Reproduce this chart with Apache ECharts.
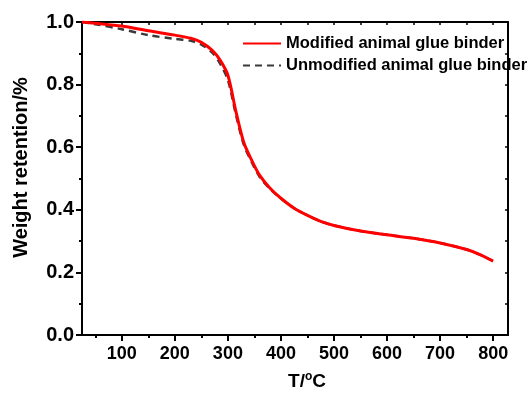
<!DOCTYPE html>
<html>
<head>
    <meta charset="utf-8">
    <title>TG curves (ECharts)</title>
    <script src="https://cdn.jsdelivr.net/npm/echarts@6/dist/echarts.min.js"></script>
    <style>
        html, body { margin: 0; padding: 0; background: #fff; }
        #main { width: 530px; height: 396px; }
    </style>
</head>
<body>
    <div id="main"></div>
    <script>
        // temperature (°C) and weight retention
        const temps = [25, 50, 100, 150, 200, 230, 250, 270, 285, 300, 315, 330, 345, 360, 380, 400, 425, 450, 475, 500, 550, 600, 650, 700, 750, 775, 800];
        const modified = [1.000, 0.996, 0.987, 0.972, 0.958, 0.948, 0.935, 0.910, 0.879, 0.830, 0.715, 0.615, 0.558, 0.510, 0.468, 0.437, 0.405, 0.382, 0.363, 0.350, 0.332, 0.320, 0.309, 0.294, 0.273, 0.257, 0.236];
        const unmodified = [1.000, 0.993, 0.977, 0.958, 0.946, 0.940, 0.928, 0.903, 0.868, 0.815, 0.705, 0.608, 0.552, 0.505, 0.466, 0.436, 0.405, 0.382, 0.363, 0.350, 0.332, 0.320, 0.309, 0.294, 0.273, 0.257, 0.236];

        const seriesNames = ['Modified animal glue binder', 'Unmodified animal glue binder'];
        const xMajor = [100, 200, 300, 400, 500, 600, 700, 800];
        const xMinor = [50, 150, 250, 350, 450, 550, 650, 750];
        const xAll = [50, 100, 150, 200, 250, 300, 350, 400, 450, 500, 550, 600, 650, 700, 750, 800];

        const font = "'Liberation Sans', Arial, sans-serif";
        const xMin = 25, xMax = 828;

        const chart = echarts.init(document.getElementById('main'));
        chart.setOption({
            animation: false,
            backgroundColor: '#fff',
            grid: { left: 82, right: 22, top: 22, bottom: 59 },
            legend: {
                data: seriesNames,
                orient: 'vertical',
                left: 237,
                top: 30,
                itemWidth: 38,
                itemHeight: 10,
                itemGap: 5,
                itemStyle: { opacity: 0 },
                textStyle: { fontFamily: font, fontWeight: 'bold', fontSize: 16.5, color: '#000' }
            },
            xAxis: [{
                type: 'value', min: xMin, max: xMax, position: 'bottom',
                axisLine: { lineStyle: { color: '#000', width: 2 } },
                axisTick: { customValues: xMajor, length: 6, lineStyle: { color: '#000', width: 2 } },
                axisLabel: {
                    customValues: xMajor, color: '#000', fontFamily: font, fontWeight: 'bold', fontSize: 18, margin: 10
                },
                splitLine: { show: false },
                name: 'T/{sup|o}C',
                nameLocation: 'middle',
                nameGap: 36,
                nameTextStyle: {
                    color: '#000', fontFamily: font, fontWeight: 'bold', fontSize: 19,
                    padding: [0, 0, 0, 24],
                    rich: { sup: { fontSize: 12, fontFamily: font, fontWeight: 'bold', color: '#000', padding: [0, 0, 9, 0] } }
                }
            }, {
                type: 'value', min: xMin, max: xMax, position: 'bottom',
                axisLine: { show: false },
                axisTick: { customValues: xMinor, length: 3, lineStyle: { color: '#000', width: 2 } },
                axisLabel: { show: false },
                splitLine: { show: false }
            }, {
                type: 'value', min: xMin, max: xMax, position: 'top',
                axisLine: { lineStyle: { color: '#000', width: 2 } },
                axisTick: { customValues: xAll, inside: true, length: 3, lineStyle: { color: '#000', width: 1.5 } },
                axisLabel: { show: false },
                splitLine: { show: false }
            }],
            yAxis: [{
                type: 'value', min: 0, max: 1, interval: 0.2, position: 'left',
                axisLine: { show: true, lineStyle: { color: '#000', width: 2 } },
                axisTick: { show: true, length: 6, lineStyle: { color: '#000', width: 2 } },
                minorTick: { show: true, splitNumber: 2, length: 3, lineStyle: { color: '#000', width: 2 } },
                axisLabel: {
                    color: '#000', fontFamily: font, fontWeight: 'bold', fontSize: 20, margin: 8,
                    formatter: v => v.toFixed(1)
                },
                splitLine: { show: false },
                minorSplitLine: { show: false },
                name: 'Weight retention/%',
                nameLocation: 'middle',
                nameGap: 51,
                nameTextStyle: {
                    color: '#000', fontFamily: font, fontWeight: 'bold', fontSize: 20,
                    padding: [0, 0, 0, 22]
                }
            }, {
                type: 'value', min: 0, max: 1, interval: 0.1, position: 'right',
                axisLine: { show: true, lineStyle: { color: '#000', width: 2 } },
                axisTick: { show: true, inside: true, length: 3, lineStyle: { color: '#000', width: 1.5 } },
                axisLabel: { show: false },
                splitLine: { show: false }
            }],
            series: [{
                name: seriesNames[1],
                type: 'line',
                xAxisIndex: 0, yAxisIndex: 0,
                data: temps.map((t, i) => [t, unmodified[i]]),
                showSymbol: false, symbol: 'none',
                smooth: 0.3,
                lineStyle: { color: '#3a3a3a', width: 2.5, type: [7, 5] },
                itemStyle: { color: '#000' },
                z: 2
            }, {
                name: seriesNames[0],
                type: 'line',
                xAxisIndex: 0, yAxisIndex: 0,
                data: temps.map((t, i) => [t, modified[i]]),
                showSymbol: false, symbol: 'none',
                smooth: 0.3,
                lineStyle: { color: '#ff0000', width: 3 },
                itemStyle: { color: '#ff0000' },
                z: 3
            }]
        });
    </script>
</body>
</html>
